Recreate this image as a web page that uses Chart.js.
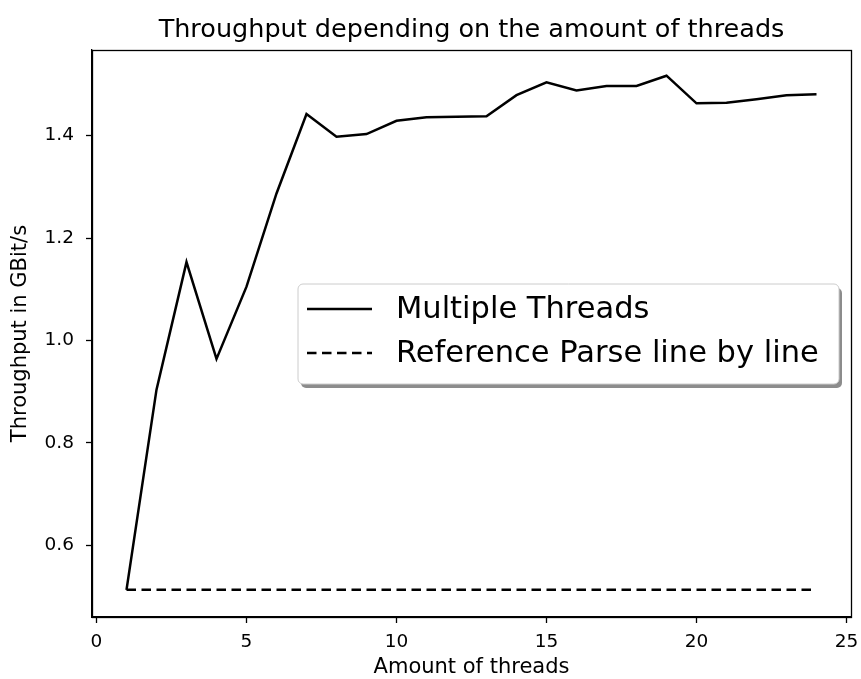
<!DOCTYPE html>
<html>
<head>
<meta charset="utf-8">
<script src="https://cdn.jsdelivr.net/npm/chart.js@4"></script>
<style>
  html, body { margin: 0; padding: 0; background: #fff; }
  #wrap { width: 861px; height: 679px; }
</style>
</head>
<body>
<div id="wrap"><canvas id="linechart" width="861" height="679"></canvas></div>
<script>
const threads = [1,2,3,4,5,6,7,8,9,10,11,12,13,14,15,16,17,18,19,20,21,22,23,24];
const multiThreads = [0.513,0.904,1.153,0.964,1.105,1.287,1.442,1.398,1.403,1.429,1.436,1.437,1.438,1.479,1.504,1.488,1.497,1.497,1.517,1.463,1.464,1.471,1.479,1.481];
const referenceLine = [0.513,0.513,0.513,0.513,0.513,0.513,0.513,0.513,0.513,0.513,0.513,0.513,0.513,0.513,0.513,0.513,0.513,0.513,0.513,0.513,0.513,0.513,0.513,0.513];
const xTicks = [0,5,10,15,20,25];
const yTicks = [0.6,0.8,1.0,1.2,1.4];

const FONT = 'DejaVu Sans';

// frame round the plot + legend box inside the plot
const framePlugin = {
  id: 'frame',
  afterDraw(chart) {
    const ctx = chart.ctx, a = chart.chartArea;
    ctx.save();
    ctx.strokeStyle = '#000';
    ctx.lineWidth = 1.3;
    ctx.strokeRect(Math.round(a.left)+0.5, Math.round(a.top)+0.5, Math.round(a.right-a.left), Math.round(a.bottom-a.top));

    // legend
    const bx = 298, by = 284, bw = 541, bh = 100, r = 5;
    function rr(x, y) {
      ctx.beginPath();
      ctx.moveTo(x+r, y);
      ctx.arcTo(x+bw, y, x+bw, y+bh, r);
      ctx.arcTo(x+bw, y+bh, x, y+bh, r);
      ctx.arcTo(x, y+bh, x, y, r);
      ctx.arcTo(x, y, x+bw, y, r);
      ctx.closePath();
    }
    ctx.fillStyle = 'rgba(0,0,0,0.45)';
    rr(bx+3, by+4); ctx.fill();
    ctx.fillStyle = '#fff';
    rr(bx, by); ctx.fill();
    ctx.lineWidth = 1;
    ctx.strokeStyle = '#cccccc';
    ctx.stroke();

    const items = chart.data.datasets;
    ctx.font = '30.5px "' + FONT + '"';
    ctx.textBaseline = 'middle';
    ctx.fillStyle = '#000';
    items.forEach((ds, i) => {
      const y = by + 25 + i * 44;
      ctx.beginPath();
      ctx.setLineDash(ds.borderDash || []);
      ctx.lineWidth = 2.5;
      ctx.strokeStyle = ds.borderColor;
      ctx.moveTo(bx + 9, y);
      ctx.lineTo(bx + 74, y);
      ctx.stroke();
      ctx.setLineDash([]);
      ctx.fillText(ds.label, bx + 98, y + 1);
    });
    ctx.restore();
  }
};

const ctx = document.getElementById('linechart').getContext('2d');
new Chart(ctx, {
  type: 'line',
  data: {
    labels: threads,
    datasets: [
      {
        label: 'Multiple Threads',
        data: threads.map((t, i) => ({x: t, y: multiThreads[i]})),
        borderColor: '#000',
        borderWidth: 2.5,
        pointRadius: 0,
        tension: 0
      },
      {
        label: 'Reference Parse line by line',
        data: threads.map((t, i) => ({x: t, y: referenceLine[i]})),
        borderColor: '#000',
        borderWidth: 2.5,
        borderDash: [9.5, 5.5],
        pointRadius: 0,
        tension: 0
      }
    ]
  },
  options: {
    responsive: false,
    animation: false,
    layout: { padding: { top: 0, left: 0, bottom: 0, right: 10 } },
    plugins: {
      legend: { display: false },
      tooltip: { enabled: false },
      title: {
        display: true,
        fullSize: false,
        text: 'Throughput depending on the amount of threads',
        color: '#000',
        font: { family: FONT, size: 25.5, weight: 'normal', lineHeight: 1.2 },
        padding: { top: 15, bottom: 4.5 }
      }
    },
    scales: {
      x: {
        type: 'linear',
        min: -0.15,
        max: 25.15,
        afterBuildTicks: s => { s.ticks = xTicks.map(v => ({value: v})); },
        afterFit: s => { s.height = 62; s.paddingRight = 0; s.paddingLeft = 0; },
        grid: { drawOnChartArea: false, tickLength: 6, color: '#000', tickWidth: 1.3 },
        border: { color: '#000', width: 1.3 },
        ticks: { color: '#000', font: { family: FONT, size: 18.5 }, padding: 8, maxRotation: 0 },
        title: { display: true, text: 'Amount of threads', color: '#000', font: { family: FONT, size: 21, lineHeight: 1.05 }, padding: { top: 0, bottom: 0 } }
      },
      y: {
        min: 0.46,
        max: 1.567,
        afterBuildTicks: s => { s.ticks = yTicks.map(v => ({value: v})); },
        afterFit: s => { s.width = 92; },
        grid: { drawOnChartArea: false, tickLength: 6, color: '#000', tickWidth: 1.3 },
        border: { color: '#000', width: 1.3 },
        ticks: { color: '#000', font: { family: FONT, size: 18.5 }, padding: 12, callback: v => v.toFixed(1) },
        title: { display: true, text: 'Throughput in GBit/s', color: '#000', font: { family: FONT, size: 21, lineHeight: 1.2 }, padding: { top: 8, bottom: 0 } }
      }
    }
  },
  plugins: [framePlugin]
});
</script>
</body>
</html>
